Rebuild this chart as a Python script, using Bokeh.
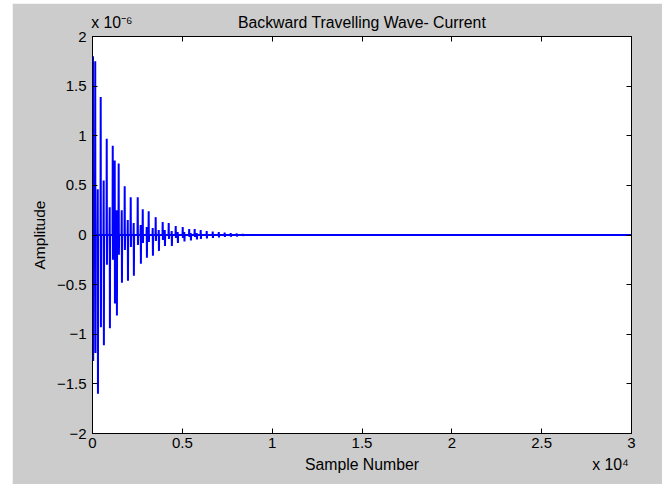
from bokeh.plotting import figure
from bokeh.models import Range1d, FixedTicker, LinearAxis
from bokeh.embed import file_html
from bokeh.resources import INLINE

# Burst positions (sample number) and their positive / negative extremes (units of 1e-6)
burst_sample = [15, 140, 280, 445, 610, 780, 945, 1115, 1225, 1335,
                1445, 1615, 1780, 1950, 2115, 2280, 2505, 2670, 2785, 3005,
                3115, 3340, 3505, 3675, 3895, 4010, 4230, 4395, 4620, 4730,
                5010, 5095, 5370, 5455, 5675, 5790, 6010, 6345, 6680, 7015,
                7345, 7680, 8015, 8350]
burst_peak_e6 = [1.80, 1.75, 0.46, 1.39, 0.55, 0.97, 0.28, 0.90, 0.75, 0.25,
                 0.72, 0.25, 0.49, 0.15, 0.38, 0.12, 0.38, 0.10, 0.26, 0.08,
                 0.24, 0.07, 0.18, 0.05, 0.13, 0.05, 0.12, 0.04, 0.09, 0.03,
                 0.08, 0.03, 0.06, 0.02, 0.06, 0.02, 0.05, 0.04, 0.035, 0.03,
                 0.025, 0.02, 0.015, 0.012]
burst_trough_e6 = [-1.27, -1.19, -1.60, -0.93, -1.11, -0.30, -0.94, -0.25, -0.69, -0.81,
                   -0.20, -0.48, -0.15, -0.46, -0.12, -0.41, -0.10, -0.29, -0.08, -0.23,
                   -0.07, -0.21, -0.06, -0.16, -0.05, -0.11, -0.04, -0.11, -0.03, -0.08,
                   -0.03, -0.065, -0.02, -0.055, -0.02, -0.045, -0.04, -0.035, -0.03, -0.025,
                   -0.02, -0.018, -0.015, -0.01]
n_samples = 30000

x_ticks = [0, 5000, 10000, 15000, 20000, 25000, 30000]
x_tick_labels = ["0", "0.5", "1", "1.5", "2", "2.5", "3"]
y_ticks = [-2, -1.5, -1, -0.5, 0, 0.5, 1, 1.5, 2]

title_text = "Backward Travelling Wave- Current"
x_label_text = "Sample Number"
y_label_text = "Amplitude"
y_scale_text = "x 10\u207b\u2076"   # x 10^-6
x_scale_text = "x 10\u2074"         # x 10^4

# build the signal path
xs, ys = [0], [0]
for s, pk, tr in zip(burst_sample, burst_peak_e6, burst_trough_e6):
    xs += [s, s + 12, s + 24, s + 36]
    ys += [0, pk, tr, 0]
xs.append(n_samples)
ys.append(0)

FONT = "Liberation Sans"

p = figure(width=650, height=481, x_range=Range1d(0, n_samples), y_range=Range1d(-2, 2),
           output_backend="svg", toolbar_location=None,
           min_border_left=80, min_border_right=31, min_border_top=33, min_border_bottom=51,
           background_fill_color="white", border_fill_color="#cccccc",
           outline_line_color="black", outline_line_width=1,
           styles={"margin-left": "12px", "margin-top": "3px"})
p.grid.visible = False

p.line(xs, ys, line_color="#0000ff", line_width=2)

def style_axis(ax, labels=True, ticks=True):
    ax.major_tick_in = 5 if ticks else 0
    ax.major_tick_out = 0
    ax.minor_tick_line_color = None
    ax.axis_line_color = "black" if ticks else None
    ax.major_tick_line_color = "black" if ticks else None
    ax.major_label_text_font = FONT
    if labels:
        ax.major_label_text_font_size = "15px"
        ax.major_label_text_color = "black"
    else:
        # mirrored tick-only axis: no tick labels are painted
        ax.major_label_text_font_size = "1px"
        ax.major_label_text_color = None
        ax.major_label_standoff = 0

# bottom axis with ticks
xa = p.xaxis[0]
xa.ticker = FixedTicker(ticks=x_ticks)
xa.major_label_overrides = {t: l for t, l in zip(x_ticks, x_tick_labels)}
style_axis(xa)
xa.major_label_standoff = 4

# row below the axis: axis title and the exponent note
foot_pos = [n_samples * 0.5, n_samples * 0.961]
foot = LinearAxis(ticker=FixedTicker(ticks=foot_pos))
style_axis(foot, ticks=False)
foot.major_label_text_font_size = "15.8px"
foot.major_label_overrides = {foot_pos[0]: x_label_text, foot_pos[1]: x_scale_text}
foot.major_label_standoff = 5
p.add_layout(foot, "below")

# left axis
ya = p.yaxis[0]
ya.ticker = FixedTicker(ticks=y_ticks)
style_axis(ya)
ya.major_label_standoff = 6
ya.axis_label = y_label_text
ya.axis_label_standoff = 6
ya.axis_label_text_font = FONT
ya.axis_label_text_font_size = "15.5px"
ya.axis_label_text_font_style = "normal"
ya.axis_label_text_color = "black"

# mirrored tick axes (box style)
top = LinearAxis(ticker=FixedTicker(ticks=x_ticks))
style_axis(top, labels=False)
p.add_layout(top, "above")
right = LinearAxis(ticker=FixedTicker(ticks=y_ticks))
style_axis(right, labels=False)
p.add_layout(right, "right")

# row above the frame: exponent note and chart title
head_pos = [n_samples * 0.036, n_samples * 0.5]
head = LinearAxis(ticker=FixedTicker(ticks=head_pos))
style_axis(head, ticks=False)
head.major_label_text_font_size = "15.8px"
head.major_label_overrides = {head_pos[0]: y_scale_text, head_pos[1]: title_text}
head.major_label_standoff = 6
p.add_layout(head, "above")

open("out.html", "w").write(file_html(p, INLINE))
